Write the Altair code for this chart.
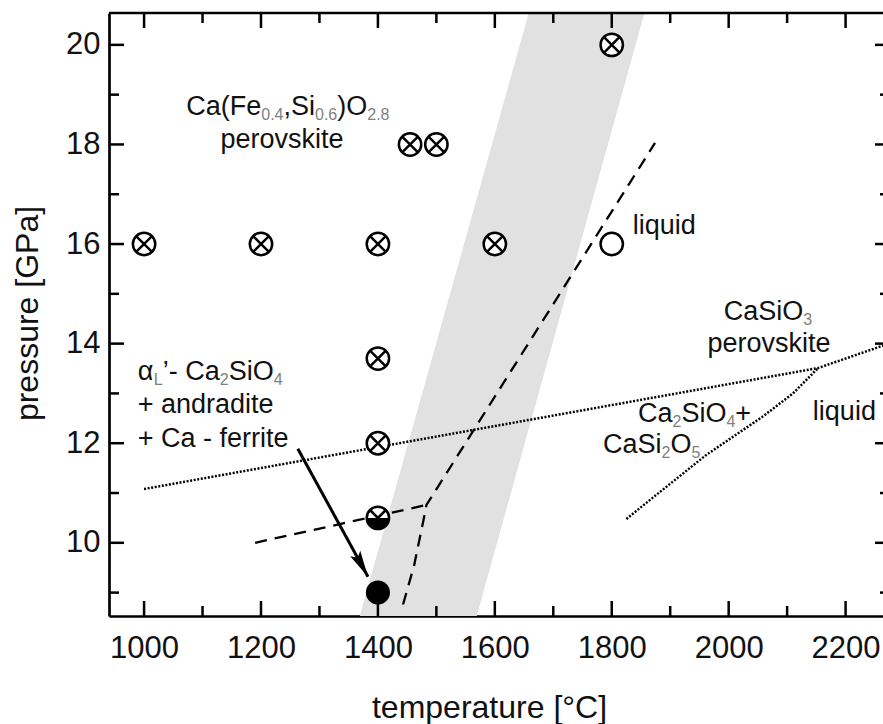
import math
import altair as alt
import pandas as pd

# ---------------- data ----------------
X_TICKS = [1000, 1100, 1200, 1300, 1400, 1500, 1600, 1700, 1800, 1900, 2000, 2100, 2200]
X_MAJOR = [1000, 1200, 1400, 1600, 1800, 2000, 2200]
Y_TICKS = [9, 10, 11, 12, 13, 14, 15, 16, 17, 18, 19, 20]
Y_MAJOR = [10, 12, 14, 16, 18, 20]

# experiments: run products
CROSS_T = [1000, 1200, 1400, 1600, 1400, 1400, 1455, 1500, 1800]
CROSS_P = [16, 16, 16, 16, 13.7, 12, 18, 18, 20]
HALF_T = [1400]
HALF_P = [10.5]
SOLID_T = [1400]
SOLID_P = [9]
OPEN_T = [1800]
OPEN_P = [16]

# grey band (edges at bottom and top of the frame)
BAND_P = [8.53, 20.64]
BAND_LEFT = [1369, 1658]
BAND_RIGHT = [1569, 1856]

# dashed phase boundaries
DASH_A_T = [1190, 1483]
DASH_A_P = [10.0, 10.76]
DASH_B_T = [1443, 1462, 1478, 1483, 1874]
DASH_B_P = [8.76, 9.55, 10.46, 10.76, 18.03]

# dotted phase boundaries
DOT_A_T = [1000, 2153, 2264]
DOT_A_P = [11.08, 13.51, 13.96]
DOT_B_T = [1825, 1960, 2060, 2110, 2153]
DOT_B_P = [10.48, 11.75, 12.55, 13.0, 13.51]

# arrow
ARROW_T = [1263, 1383]
ARROW_P = [11.89, 9.32]

# labels: segments (text, is_subscript), anchor T, anchor P, alignment
NB = "\u00a0"
LABELS = [
    ([("Ca(Fe", 0), ("0.4", 1), (",Si", 0), ("0.6", 1), (")O", 0), ("2.8", 1)], 1246, 18.59, "center"),
    ([("perovskite", 0)], 1236, 17.93, "center"),
    ([("liquid", 0)], 1836, 16.2, "left"),
    ([("CaSiO", 0), ("3", 1)], 2067, 14.48, "center"),
    ([("perovskite", 0)], 2069, 13.83, "center"),
    ([("Ca", 0), ("2", 1), ("SiO", 0), ("4", 1), (NB + "+", 0)], 1845, 12.43, "left"),
    ([("CaSi", 0), ("2", 1), ("O", 0), ("5", 1)], 1785, 11.80, "left"),
    ([("liquid", 0)], 2144, 12.47, "left"),
    ([("α", 0), ("L", 1), ("’- Ca", 0), ("2", 1), ("SiO", 0), ("4", 1)], 989, 13.27, "left"),
    ([("+ andradite", 0)], 989, 12.61, "left"),
    ([("+ Ca - ferrite", 0)], 989, 11.93, "left"),
]

# ---------------- layout / style ----------------
XMIN, XMAX = 940, 2264
YMIN, YMAX = 8.53, 20.64
W, H = 774, 603
KX = W / (XMAX - XMIN)
KY = H / (YMAX - YMIN)
FONT = "Liberation Sans"
INK = "#111111"
MAIN_SIZE = 27
SUB_SIZE = 16
SUB_DROP = 5
SUB_COLOR = "#808080"

ARIAL = {
    'C': .722, 'a': .556, '(': .333, 'F': .611, 'e': .556, '.': .278, ',': .278,
    'S': .667, 'i': .222, ')': .333, 'O': .778, ' ': .278, NB: .278, '+': .584, '-': .333,
    'n': .556, 'd': .556, 'r': .333, 't': .278, 'f': .278, 'L': .556, '’': .222,
    'α': .6, 'p': .556, 'o': .556, 'v': .5, 's': .5, 'k': .5, 'l': .222, 'q': .556,
    'u': .556,
}


def text_width(s, size):
    return sum(ARIAL.get(ch, .556) for ch in s) * size


rows = []
for segs, t0, p0, align in LABELS:
    widths = [text_width(s, SUB_SIZE if sub else MAIN_SIZE) for s, sub in segs]
    total = sum(widths)
    off = -total / 2 if align == "center" else 0.0
    for (s, sub), w in zip(segs, widths):
        rows.append({
            "T": t0 + off / KX,
            "P": p0 - (SUB_DROP / KY if sub else 0),
            "text": s,
            "size": SUB_SIZE if sub else MAIN_SIZE,
            "color": SUB_COLOR if sub else INK,
        })
        off += w
text_df = pd.DataFrame(rows)

xs = alt.Scale(domain=[XMIN, XMAX], nice=False, zero=False)
ys = alt.Scale(domain=[YMIN, YMAX], nice=False, zero=False)

xaxis = alt.Axis(
    values=X_MAJOR, format="d", title="temperature [°C]", ticks=False, tickSize=0, grid=False,
    labelPadding=41, labelBaseline="alphabetic", labelFontSize=31, labelFont=FONT,
    labelColor=INK, labelFlush=False, labelOverlap=False, domainColor="black",
    domainWidth=2.7, titleFont=FONT, titleFontSize=32, titleFontWeight="normal",
    titleColor=INK, titleX=380, titleY=101, titleAlign="center", titleBaseline="alphabetic",
)
yaxis = alt.Axis(
    values=Y_MAJOR, format="d", title="pressure [GPa]", ticks=False, tickSize=0, grid=False,
    labelPadding=9, labelFontSize=31, labelFont=FONT, labelColor=INK, labelFlush=False,
    labelOverlap=False, domainColor="black", domainWidth=2.7, titleFont=FONT,
    titleFontSize=32, titleFontWeight="normal", titleColor=INK, titleX=-72, titleY=300,
    titleAngle=270, titleAlign="center", titleBaseline="alphabetic",
)


def X(f):
    return alt.X(f"{f}:Q", scale=xs, axis=xaxis)


def Y(f):
    return alt.Y(f"{f}:Q", scale=ys, axis=yaxis)


def lines_df(series):
    out = []
    for name, ts, ps in series:
        for i, (t, p) in enumerate(zip(ts, ps)):
            out.append({"line": name, "i": i, "T": t, "P": p})
    return pd.DataFrame(out)


band = alt.Chart(pd.DataFrame({"P": BAND_P, "L": BAND_LEFT, "R": BAND_RIGHT})).mark_area(
    color="#e1e1e1", orient="horizontal"
).encode(y=Y("P"), x=X("L"), x2="R:Q")

dashed = alt.Chart(lines_df([("a", DASH_A_T, DASH_A_P), ("b", DASH_B_T, DASH_B_P)])).mark_line(
    color="black", strokeWidth=2.3, strokeDash=[12, 8]
).encode(x=X("T"), y=Y("P"), detail="line:N", order="i:Q")

dotted = alt.Chart(lines_df([("a", DOT_A_T, DOT_A_P), ("b", DOT_B_T, DOT_B_P)])).mark_line(
    color="black", strokeWidth=2.5, strokeDash=[2, 1.6]
).encode(x=X("T"), y=Y("P"), detail="line:N", order="i:Q")

arrow = alt.Chart(lines_df([("arrow", ARROW_T, ARROW_P)])).mark_line(
    color="black", strokeWidth=3
).encode(x=X("T"), y=Y("P"), order="i:Q")

dxp = (ARROW_T[1] - ARROW_T[0]) * KX
dyp = (ARROW_P[0] - ARROW_P[1]) * KY
ang = math.degrees(math.atan2(dxp, -dyp)) % 360
HEAD = "M0,0L0.4,1.85L0,1.5L-0.4,1.85Z"
head = alt.Chart(pd.DataFrame({"T": [ARROW_T[1]], "P": [ARROW_P[1]]})).mark_point(
    shape=HEAD, filled=True, color="black", size=820, angle=ang, opacity=1, strokeWidth=0
).encode(x=X("T"), y=Y("P"))

CIRC_SIZE = 500
ring_df = pd.DataFrame({"T": CROSS_T + HALF_T + OPEN_T, "P": CROSS_P + HALF_P + OPEN_P})
rings = alt.Chart(ring_df).mark_point(
    shape="circle", filled=True, fill="white", stroke="black", strokeWidth=2.5,
    size=CIRC_SIZE, opacity=1
).encode(x=X("T"), y=Y("P"))

XPATH = "M-0.707,-0.707L0.707,0.707M-0.707,0.707L0.707,-0.707"
crosses = alt.Chart(pd.DataFrame({"T": CROSS_T, "P": CROSS_P})).mark_point(
    shape=XPATH, filled=False, stroke="black", strokeWidth=2.5, size=CIRC_SIZE, opacity=1
).encode(x=X("T"), y=Y("P"))

HALFDISK = "M-1,0A1,1,0,0,0,1,0Z"
half_fill = alt.Chart(pd.DataFrame({"T": HALF_T, "P": HALF_P})).mark_point(
    shape=HALFDISK, filled=True, color="black", size=CIRC_SIZE, opacity=1, strokeWidth=0
).encode(x=X("T"), y=Y("P"))

VPATH = "M-0.707,-0.707L0,0L0.707,-0.707"
half_v = alt.Chart(pd.DataFrame({"T": HALF_T, "P": HALF_P})).mark_point(
    shape=VPATH, filled=False, stroke="black", strokeWidth=2.5, size=CIRC_SIZE, opacity=1
).encode(x=X("T"), y=Y("P"))

solid = alt.Chart(pd.DataFrame({"T": SOLID_T, "P": SOLID_P})).mark_point(
    shape="circle", filled=True, color="black", size=580, opacity=1
).encode(x=X("T"), y=Y("P"))

texts = alt.Chart(text_df).mark_text(
    align="left", baseline="alphabetic", font=FONT
).encode(
    x=X("T"), y=Y("P"), text="text:N",
    size=alt.Size("size:Q", scale=None),
    color=alt.Color("color:N", scale=None),
)

# inward ticks on all four sides
X_MINOR = [t for t in X_TICKS if t not in X_MAJOR]
Y_MINOR = [t for t in Y_TICKS if t not in Y_MAJOR]
TICK = dict(color="black", strokeWidth=2.5)


def xticks(vals, ln):
    d = alt.Chart(pd.DataFrame({"v": vals}))
    bottom = d.mark_rule(**TICK).encode(x=X("v"), y=alt.value(H), y2=alt.value(H - ln))
    top = d.mark_rule(**TICK).encode(x=X("v"), y=alt.value(0), y2=alt.value(ln))
    return [bottom, top]


def yticks(vals, ln, vis):
    d = alt.Chart(pd.DataFrame({"v": vals}))
    left = d.mark_rule(**TICK).encode(y=Y("v"), x=alt.value(0), x2=alt.value(ln))
    right = d.mark_rule(**TICK).encode(y=Y("v"), x=alt.value(W - vis), x2=alt.value(W))
    return [left, right]


top_frame = alt.Chart(pd.DataFrame({"a": [0]})).mark_rule(color="black", strokeWidth=2.7).encode(
    x=alt.value(0), x2=alt.value(W), y=alt.value(0)
)

layers = [band, dashed, dotted, arrow, head, rings, crosses, half_fill, half_v, solid, texts]
layers += xticks(X_MAJOR, 15) + xticks(X_MINOR, 10)
layers += yticks(Y_MAJOR, 15, 8) + yticks(Y_MINOR, 10, 3)
layers += [top_frame]

chart = alt.layer(*layers).properties(
    width=W, height=H,
    padding={"left": 109, "top": 13, "right": 0, "bottom": 108},
    autosize=alt.AutoSizeParams(type="none"),
    background="white",
).configure_view(stroke=None)

chart.save("out.html", embed_options={"renderer": "svg", "actions": False})
